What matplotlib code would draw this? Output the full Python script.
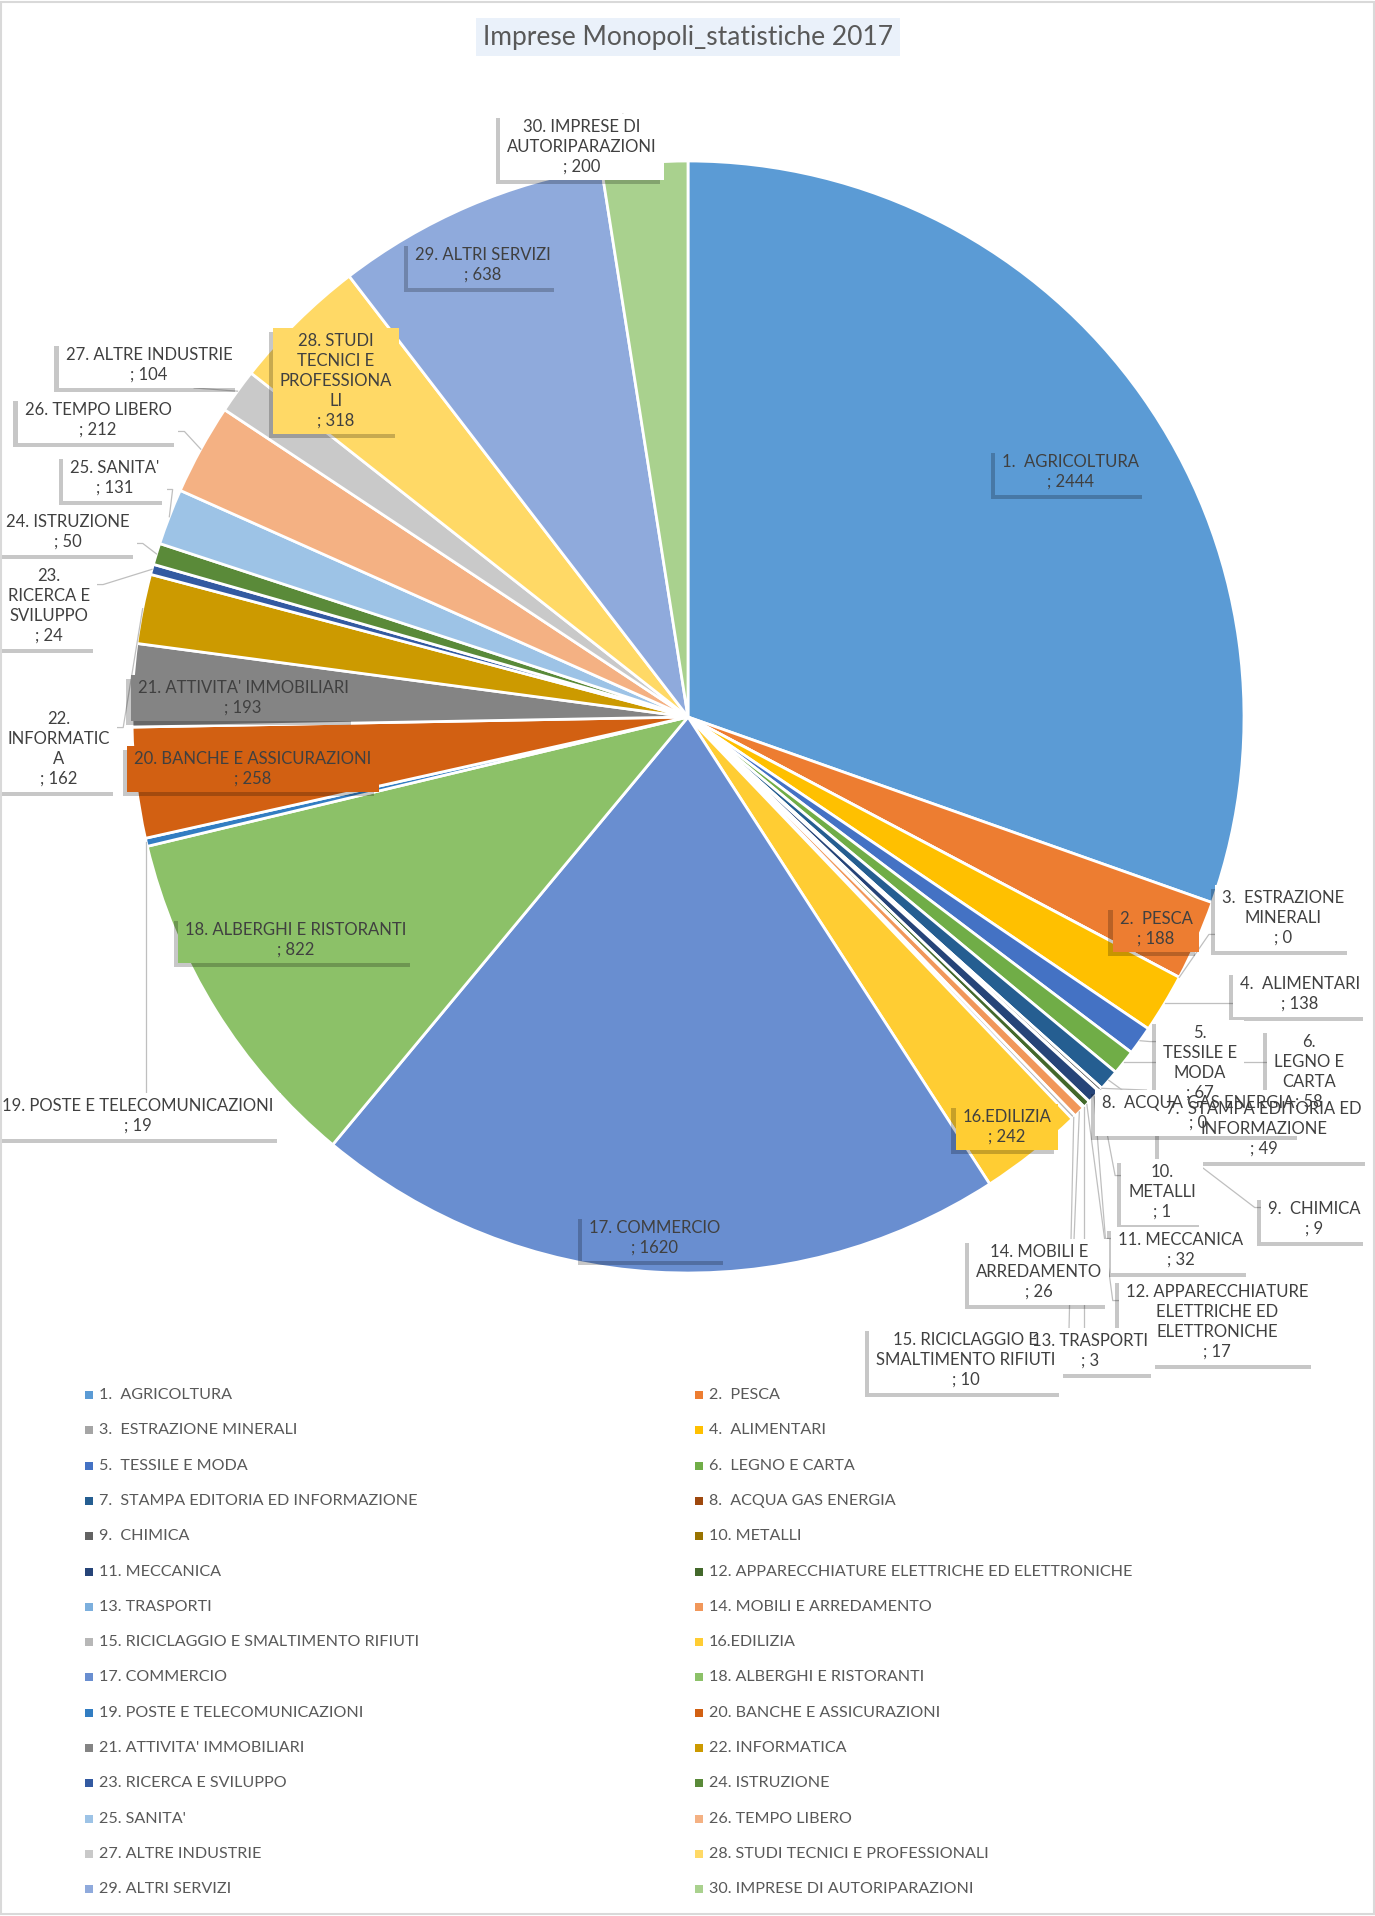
import matplotlib.pyplot as plt
import matplotlib.patheffects as pe
from matplotlib.patches import Rectangle
import numpy as np

plt.rcParams['font.family'] = ['Lato', 'DejaVu Sans']

title = "Imprese Monopoli_statistiche 2017"

categories = [
    "1.  AGRICOLTURA", "2.  PESCA", "3.  ESTRAZIONE MINERALI", "4.  ALIMENTARI",
    "5.  TESSILE E MODA", "6.  LEGNO E CARTA", "7.  STAMPA EDITORIA ED INFORMAZIONE",
    "8.  ACQUA GAS ENERGIA", "9.  CHIMICA", "10. METALLI", "11. MECCANICA",
    "12. APPARECCHIATURE ELETTRICHE ED ELETTRONICHE", "13. TRASPORTI",
    "14. MOBILI E ARREDAMENTO", "15. RICICLAGGIO E SMALTIMENTO RIFIUTI", "16.EDILIZIA",
    "17. COMMERCIO", "18. ALBERGHI E RISTORANTI", "19. POSTE E TELECOMUNICAZIONI",
    "20. BANCHE E ASSICURAZIONI", "21. ATTIVITA' IMMOBILIARI", "22. INFORMATICA",
    "23. RICERCA E SVILUPPO", "24. ISTRUZIONE", "25. SANITA'", "26. TEMPO LIBERO",
    "27. ALTRE INDUSTRIE", "28. STUDI TECNICI E PROFESSIONALI", "29. ALTRI SERVIZI",
    "30. IMPRESE DI AUTORIPARAZIONI",
]
values = [2444, 188, 0, 138, 67, 58, 49, 0, 9, 1, 32, 17, 3, 26, 10,
          242, 1620, 822, 19, 258, 193, 162, 24, 50, 131, 212, 104, 318, 638, 200]

colors = ["#5B9BD5", "#ED7D31", "#A5A5A5", "#FFC000", "#4472C4", "#70AD47",
          "#255E91", "#9E480E", "#636363", "#997300", "#264478", "#43682B",
          "#7CAFDD", "#F1975A", "#B7B7B7", "#FFCD33", "#698ED0", "#8CC168",
          "#327DC2", "#D26012", "#848484", "#CC9A00", "#335AA1", "#5A8A39",
          "#9DC3E6", "#F4B183", "#C9C9C9", "#FFD966", "#8FAADC", "#A9D18E"]

# data label layout (wrapped text, centre in pixels from top-left, inside slice?)
label_wrap = [
    "1.  AGRICOLTURA", "2.  PESCA", "3.  ESTRAZIONE\nMINERALI", "4.  ALIMENTARI",
    "5.\nTESSILE E\nMODA", "6.\nLEGNO E\nCARTA", "7.  STAMPA EDITORIA ED\nINFORMAZIONE",
    "8.  ACQUA GAS ENERGIA", "9.  CHIMICA", "10.\nMETALLI", "11. MECCANICA",
    "12. APPARECCHIATURE\nELETTRICHE ED\nELETTRONICHE", "13. TRASPORTI",
    "14. MOBILI E\nARREDAMENTO", "15. RICICLAGGIO E\nSMALTIMENTO RIFIUTI", "16.EDILIZIA",
    "17. COMMERCIO", "18. ALBERGHI E RISTORANTI", "19. POSTE E TELECOMUNICAZIONI",
    "20. BANCHE E ASSICURAZIONI", "21. ATTIVITA' IMMOBILIARI", "22.\nINFORMATIC\nA",
    "23.\nRICERCA E\nSVILUPPO", "24. ISTRUZIONE", "25. SANITA'", "26. TEMPO LIBERO",
    "27. ALTRE INDUSTRIE", "28. STUDI\nTECNICI E\nPROFESSIONA\nLI", "29. ALTRI SERVIZI",
    "30. IMPRESE DI\nAUTORIPARAZIONI",
]
label_pos = [
    (1071, 472), (1156, 929), (1283, 918), (1300, 994), (1200, 1063), (1309, 1072),
    (1264, 1129), (1198, 1113), (1314, 1219), (1162, 1192), (1181, 1250), (1217, 1322),
    (1090, 1351), (1039, 1272), (966, 1360), (1007, 1127), (655, 1238), (296, 940),
    (138, 1116), (253, 769), (243, 698), (59, 749), (49, 606), (68, 532),
    (115, 478), (98, 420), (149, 365), (336, 381), (483, 265), (582, 147),
]
label_inside = [True, True, False, False, False, False, False, False, False, False,
                False, False, False, False, False, True, True, True, False, True,
                True, False, False, False, False, False, False, True, True, False]

W, H = 1375, 1916
CX, CY, R = 688, 717, 556
FS = 12
PAD = 7  # px around label text

fig = plt.figure(figsize=(W / 100, H / 100), dpi=100)
ax = fig.add_axes([0, 0, 1, 1])

wedges, _ = ax.pie(values, colors=colors, startangle=90, counterclock=False,
                   center=(CX, H - CY), radius=R,
                   wedgeprops=dict(edgecolor='white', linewidth=2))
ax.set_xlim(0, W)
ax.set_ylim(0, H)
ax.set_aspect('equal')
ax.axis('off')

shadow = [pe.SimplePatchShadow(offset=(-3, -3), shadow_rgbFace='black', alpha=0.22),
          pe.Normal()]

texts = []
for i in range(len(values)):
    txt = f"{label_wrap[i]}\n; {values[i]}"
    lx, ly = label_pos[i]
    t = ax.text(lx, H - ly, txt, ha='center', va='center', fontsize=FS, linespacing=1.3,
                multialignment='center', color='#404040', zorder=5)
    texts.append(t)

fig.canvas.draw()
renderer = fig.canvas.get_renderer()
inv = ax.transData.inverted()

# label boxes (under all texts, like Excel) and leader lines
for i, (w, t) in enumerate(zip(wedges, texts)):
    bb = t.get_window_extent(renderer)
    (x0, y0) = inv.transform((bb.x0 - PAD, bb.y0 - PAD + 2))
    (x1, y1) = inv.transform((bb.x1 + PAD, bb.y1 + PAD - 2))
    fc = colors[i] if label_inside[i] else 'white'
    box = Rectangle((x0, y0), x1 - x0, y1 - y0, facecolor=fc, edgecolor='none', zorder=3)
    box.set_path_effects(shadow)
    ax.add_patch(box)
    if label_inside[i]:
        continue
    mid = np.deg2rad((w.theta1 + w.theta2) / 2)
    ex = CX + R * np.cos(mid)
    ey = H - CY + R * np.sin(mid)
    xm, ym = (x0 + x1) / 2, (y0 + y1) / 2
    if ex < x0 or ex > x1:
        px = x0 if ex < x0 else x1
        py = np.clip(ey, ym - (y1 - y0) / 4, ym + (y1 - y0) / 4)
        ax.plot([ex, px - np.sign(px - ex) * 6, px], [ey, py, py],
                color='#BFBFBF', lw=0.9, zorder=2.5)
    else:
        py = y0 if ey < y0 else y1
        px = np.clip(ex, xm - (x1 - x0) / 4, xm + (x1 - x0) / 4)
        ax.plot([ex, px], [ey, py], color='#BFBFBF', lw=0.9, zorder=2.5)

# title
fig.text(CX / W, 1 - 37 / H, title, ha='center', va='center', fontsize=19,
         color='#595959',
         bbox=dict(facecolor='#EAF1FA', edgecolor='none', pad=5))

# legend, two columns filled row by row
for i, name in enumerate(categories):
    col, row = i % 2, i // 2
    x = 89 if col == 0 else 699
    y = 1395 + row * 35.3
    ax.add_patch(Rectangle((x - 4, H - y - 4), 8, 8, facecolor=colors[i], edgecolor='none'))
    ax.text(x + 10, H - y, name, ha='left', va='center', fontsize=11.6, color='#595959')

# chart border
fig.add_artist(Rectangle((0.001, 0.001), 0.998, 0.998, transform=fig.transFigure,
                         fill=False, edgecolor='#D9D9D9', linewidth=1.5))

fig.savefig('out.png', dpi=100, facecolor='white')
